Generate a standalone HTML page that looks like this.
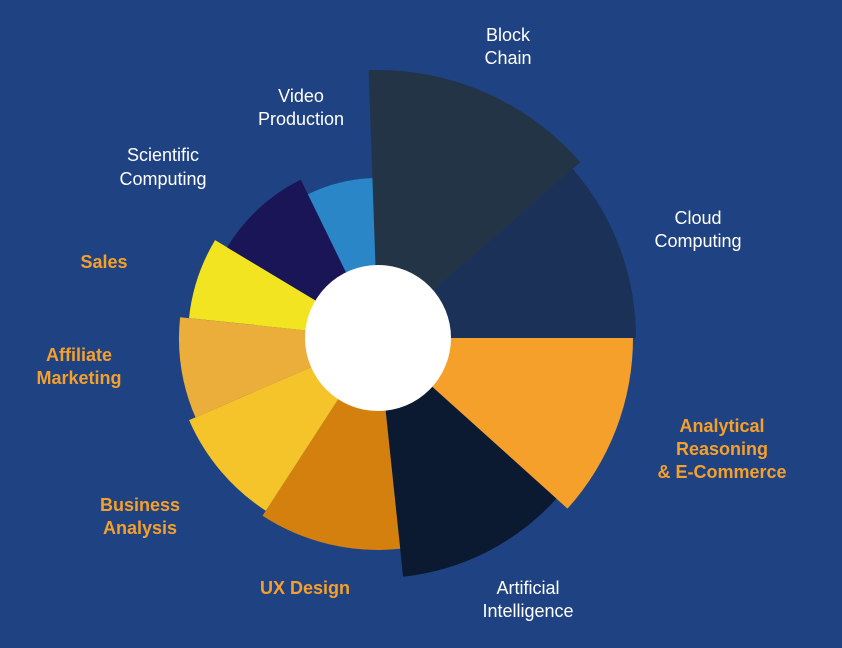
<!DOCTYPE html>
<html><head><meta charset="utf-8">
<style>
html,body{margin:0;padding:0;background:#1F4283;}
svg{display:block}
text{font-family:"Liberation Sans",sans-serif;font-size:18px;text-anchor:middle}
.w{fill:#fff}
.o{fill:#F5A02A;font-weight:bold}
</style></head>
<body>
<svg id="s" width="842" height="648" viewBox="0 0 842 648">
<rect width="842" height="648" fill="#1F4283"/>
<g id="g"></g>
<circle cx="378" cy="338" r="73" fill="#fff"/>
<text class="w" x="508" y="41">Block</text><text class="w" x="508" y="64">Chain</text>
<text class="w" x="301" y="102">Video</text><text class="w" x="301" y="125">Production</text>
<text class="w" x="163" y="161">Scientific</text><text class="w" x="163" y="185">Computing</text>
<text class="o" x="104" y="268">Sales</text>
<text class="o" x="79" y="361">Affiliate</text><text class="o" x="79" y="384">Marketing</text>
<text class="o" x="722" y="432">Analytical</text><text class="o" x="722" y="455">Reasoning</text><text class="o" x="722" y="478">&amp; E-Commerce</text>
<text class="o" x="140" y="511">Business</text><text class="o" x="140" y="534">Analysis</text>
<text class="o" x="305" y="594">UX Design</text>
<text class="w" x="528" y="594">Artificial</text><text class="w" x="528" y="617">Intelligence</text>
<text class="w" x="698" y="224">Cloud</text><text class="w" x="698" y="247">Computing</text>
</svg>
<script>
var cx=378,cy=338;
var segs=[
[-2,49,268,"#243447"],
[49,90,258,"#1C3157"],
[90,132,255,"#F5A02A"],
[132,174,240,"#0B1A30"],
[174,213,212,"#D4800F"],
[213,246.5,206,"#F5C42A"],
[246.5,276,199,"#EBAE3A"],
[276,301,190,"#F2E421"],
[301,334,176,"#1A1557"],
[334,358,160,"#2A86C6"]];
function pt(a,r){var t=a*Math.PI/180;return [cx+r*Math.sin(t),cy-r*Math.cos(t)];}
var h="";
segs.forEach(function(s){var p1=pt(s[0],s[2]),p2=pt(s[1],s[2]);
h+='<path d="M'+cx+','+cy+'L'+p1[0].toFixed(1)+','+p1[1].toFixed(1)+'A'+s[2]+','+s[2]+' 0 0 1 '+p2[0].toFixed(1)+','+p2[1].toFixed(1)+'Z" fill="'+s[3]+'"/>';});
document.getElementById("g").innerHTML=h;
</script>
</body></html>
